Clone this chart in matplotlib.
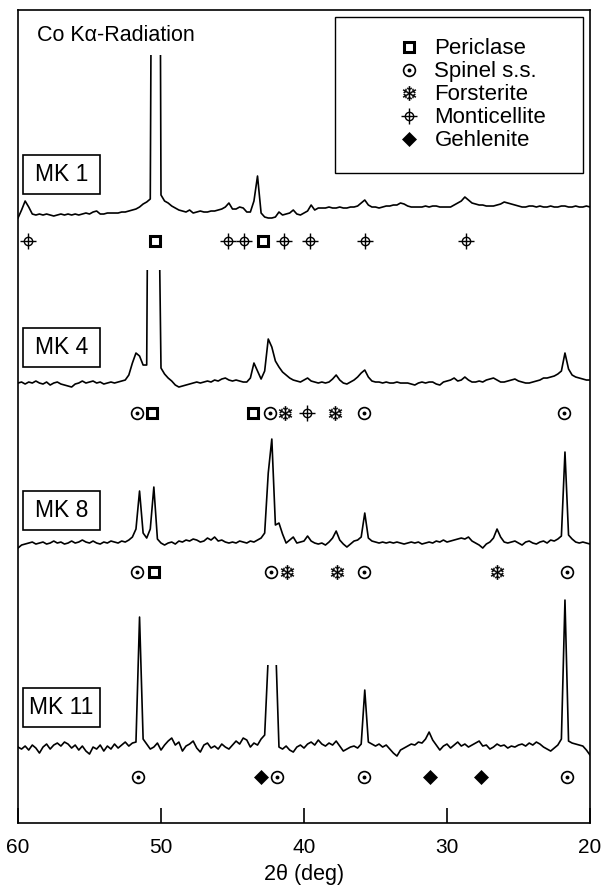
import numpy as np
import matplotlib
matplotlib.use('Agg')
import matplotlib.pyplot as plt
import matplotlib.transforms as mtransforms
from matplotlib.lines import Line2D
from matplotlib.patches import Rectangle, PathPatch
from matplotlib.path import Path
from matplotlib.legend_handler import HandlerTuple

plt.rcParams['font.family'] = ['Liberation Sans', 'DejaVu Sans']

# 2-theta scan, 60 -> 20 deg, 0.25 deg step
two_theta = np.linspace(60, 20, 161)

# intensities (arb. units, above each pattern's baseline)
mk1_counts = [
    -3, 5, 14, 8, 1, 0, 1, 0, 1, 0,
    -1, 0, 1, 0, 1, 0, 1, 0, 1, 2,
    1, 3, 4, 1, 1, 2, 2, 2, 2, 3,
    3, 4, 5, 6, 8, 11, 13, 16, 800, 1000,
    20, 14, 12, 9, 7, 5, 4, 3, 5, 2,
    3, 4, 3, 3, 4, 4, 5, 6, 8, 12,
    6, 6, 8, 7, 3, 3, 14, 39, 2, -2,
    -3, -3, -2, 3, 0, 1, 2, 5, 1, 0,
    2, 4, 10, 5, 7, 7, 7, 8, 7, 7,
    8, 7, 7, 8, 8, 9, 12, 15, 10, 8,
    8, 7, 8, 9, 9, 10, 10, 12, 11, 9,
    8, 8, 8, 8, 9, 8, 9, 9, 8, 8,
    8, 8, 10, 12, 14, 18, 15, 12, 11, 10,
    10, 9, 9, 9, 10, 11, 13, 12, 11, 10,
    9, 8, 8, 9, 9, 8, 9, 8, 8, 9,
    8, 8, 9, 9, 8, 8, 9, 8, 8, 9,
    8]
mk4_counts = [
    0, 1, -1, 1, 0, 2, 0, -1, 1, -2,
    0, 1, -1, -2, -3, -4, -1, 0, 2, 0,
    1, 2, 0, 1, -1, 0, 1, 0, 1, 2,
    3, 8, 20, 30, 27, 18, 18, 600, 900, 300,
    15, 9, 5, 2, -2, -4, -3, -2, -1, 0,
    1, 0, 1, 2, 1, 3, 2, 4, 5, 3,
    2, 3, 2, 1, 1, 5, 20, 12, 4, 12,
    44, 36, 22, 16, 11, 8, 5, 3, 2, 1,
    3, 5, 2, 1, 0, 1, 0, 1, 4, 8,
    3, 0, -1, 1, 3, 6, 10, 13, 6, 2,
    1, 1, 0, 1, 0, 0, 1, 0, 0, 0,
    -1, -2, 0, 1, 0, 1, 1, -1, -2, 1,
    2, 3, 5, 2, 3, 6, 3, 1, 1, 2,
    1, 3, 4, 5, 3, 1, 1, 2, 3, 4,
    2, 1, 0, 0, 1, 2, 3, 5, 5, 6,
    7, 9, 12, 30, 14, 8, 6, 5, 4, 3,
    3]
mk8_counts = [
    -5, -2, -1, 0, 1, -1, 0, 1, -1, 0,
    2, 0, 1, -1, 0, 2, 0, 1, 3, 1,
    0, 2, 0, -1, 1, 0, 2, 1, 0, 2,
    1, 3, 6, 14, 52, 10, 5, 14, 56, 4,
    0, -2, 0, 1, -1, 2, 1, 3, 2, 4,
    3, 1, 2, 5, 3, 6, 2, 3, 1, 0,
    1, 0, 2, 1, 0, 2, 1, 3, 5, 10,
    70, 104, 18, 20, 9, 0, 3, 6, 0, 1,
    2, 7, 2, 0, -1, 0, -2, 1, 5, 12,
    3, -1, -4, -1, 2, 3, 6, 30, 5, 2,
    1, 0, 1, 0, 1, 0, 1, 0, -1, 0,
    1, 0, 1, -1, 0, 1, 0, 2, 1, 3,
    1, 2, 3, 4, 5, 4, 6, 2, 0, -2,
    -5, -1, 1, 5, 14, 6, 1, 0, 1, 2,
    0, -2, 1, 2, 0, -1, 1, 2, 0, 3,
    2, 4, 7, 91, 8, 4, 1, 0, 1, 0,
    -1]
mk11_counts = [
    0, -2, 1, -3, 2, -1, -6, 0, 3, -2,
    2, 4, 1, 5, 3, -1, 2, -3, 1, -4,
    -7, 0, -2, 2, -4, 1, -2, 3, -1, 2,
    5, 1, 4, 5, 130, 8, 3, -2, 0, 4,
    -3, 2, 6, 9, 2, 5, -4, 1, 3, 6,
    -1, -5, 2, 4, -1, 1, -2, 3, 0, -2,
    2, 6, 3, 9, 7, 0, 4, 2, 8, 12,
    90, 160, 110, 0, -2, 1, -3, -5, 0, 2,
    -1, 3, 5, 2, 7, 3, 1, 4, 2, 6,
    1, -4, -2, 0, 1, -1, 3, 57, 5, 3,
    1, 3, 0, 2, -2, -6, -9, -3, -1, 1,
    3, 2, 5, 4, 8, 15, 7, 2, -3, 1,
    3, -1, 2, 5, 1, 3, 0, 2, 4, 6,
    1, 2, -2, 0, 3, 1, 2, -1, 1, 0,
    2, 3, 1, 4, 2, 5, 3, 0, -2, -4,
    -1, 2, 8, 147, 6, 4, 3, 2, 1, -3,
    -8]

samples = ['MK 1', 'MK 4', 'MK 8', 'MK 11']
patterns = [mk1_counts, mk4_counts, mk8_counts, mk11_counts]

# identified reflections (2-theta) per sample
mk1_phases = {
    'Monticellite': [59.3, 45.3, 44.2, 41.4, 39.6, 35.7, 28.7],
    'Periclase': [50.4, 42.9],
}
mk4_phases = {
    'Spinel s.s.': [51.7, 42.4, 35.8, 21.8],
    'Periclase': [50.6, 43.6],
    'Forsterite': [41.3, 37.8],
    'Monticellite': [39.8],
}
mk8_phases = {
    'Spinel s.s.': [51.7, 42.3, 35.8, 21.6],
    'Periclase': [50.5],
    'Forsterite': [41.2, 37.7, 26.5],
}
mk11_phases = {
    'Spinel s.s.': [51.6, 41.9, 35.8, 21.6],
    'Gehlenite': [43.0, 31.2, 27.6],
}
phase_rows = [mk1_phases, mk4_phases, mk8_phases, mk11_phases]

legend_order = ['Periclase', 'Spinel s.s.', 'Forsterite', 'Monticellite', 'Gehlenite']

# ---- layout / style ----
baselines = [608, 440, 280, 76]
marker_rows = [582, 410, 251, 46]
label_y = [648.5, 475.5, 313, 115.5]
cuts = [(49.95, 50.85, 160), (49.9, 51.1, 113), None, (41.8, 42.7, 82)]

styles = {
    'Periclase': [dict(marker='s', ms=6.5, mfc='white', mec='black', mew=2.2)],
    'Spinel s.s.': [dict(marker='o', ms=8.5, mfc='white', mec='black', mew=1.2),
                    dict(marker='o', ms=2.8, mfc='black', mec='black', mew=0)],
    'Forsterite': [dict(marker='$\u2744$', ms=10.5, mfc='black', mec='black', mew=0.2)],
    'Monticellite': [dict(marker='o', ms=6, mfc='white', mec='black', mew=1.0),
                     dict(marker='+', ms=11, mec='black', mew=1.0)],
    'Gehlenite': [dict(marker='D', ms=7, mfc='black', mec='black', mew=0.5)],
}


def notch_clip(ax, lo, hi, level):
    top, bottom = 5000, -5000
    verts = [(61, bottom), (61, top), (hi, top), (hi, level), (lo, level),
             (lo, top), (19, top), (19, bottom), (61, bottom)]
    codes = [Path.MOVETO] + [Path.LINETO] * 7 + [Path.CLOSEPOLY]
    return PathPatch(Path(verts, codes), transform=ax.transData)


fig = plt.figure(figsize=(6.1, 8.85), dpi=100)
ax = fig.add_axes([0.0295, 0.070, 0.9377, 0.9187])

for counts, base, cut in zip(patterns, baselines, cuts):
    y = np.array(counts) + base
    line, = ax.plot(two_theta, y, color='black', lw=1.2)
    if cut is not None:
        line.set_clip_path(notch_clip(ax, cut[0], cut[1], base + cut[2]))

for phases, row in zip(phase_rows, marker_rows):
    for name, xs in phases.items():
        for kw in styles[name]:
            ax.plot(xs, [row] * len(xs), ls='none', color='black', zorder=3, **kw)

blend = mtransforms.blended_transform_factory(ax.transAxes, ax.transData)
for name, yc in zip(samples, label_y):
    ax.add_patch(Rectangle((0.0087, yc - 19.5), 0.1346, 39, transform=blend,
                           fill=False, ec='black', lw=1.2))
    ax.text(0.0087 + 0.0673, yc, name, transform=blend, ha='center', va='center',
            fontsize=16.5)

ax.text(0.033, 0.969, 'Co K\u03b1-Radiation', transform=ax.transAxes,
        ha='left', va='center', fontsize=15.5)

handles = [tuple(Line2D([], [], ls='none', color='black', **kw) for kw in styles[n])
           for n in legend_order]
ax.add_patch(Rectangle((0.554, 0.7995), 0.434, 0.1915, transform=ax.transAxes,
                       fill=False, ec='black', lw=1.0))
ax.legend(handles, legend_order, loc='upper left', bbox_to_anchor=(0.664, 0.965),
          frameon=False, borderpad=0, borderaxespad=0, handlelength=1.0,
          handletextpad=0.65, labelspacing=0.09, fontsize=16,
          handler_map={tuple: HandlerTuple(ndivide=1)})

ax.set_xlim(60, 20)
ax.set_ylim(0, 813)
ax.set_xticks([60, 50, 40, 30, 20])
ax.set_yticks([])
ax.tick_params(axis='x', direction='in', length=11, width=1.2, labelsize=15, pad=11)
for s in ax.spines.values():
    s.set_linewidth(1.2)
ax.set_xlabel('2\u03b8 (deg)', fontsize=15.5, labelpad=5)

fig.savefig('out.png', dpi=100)
